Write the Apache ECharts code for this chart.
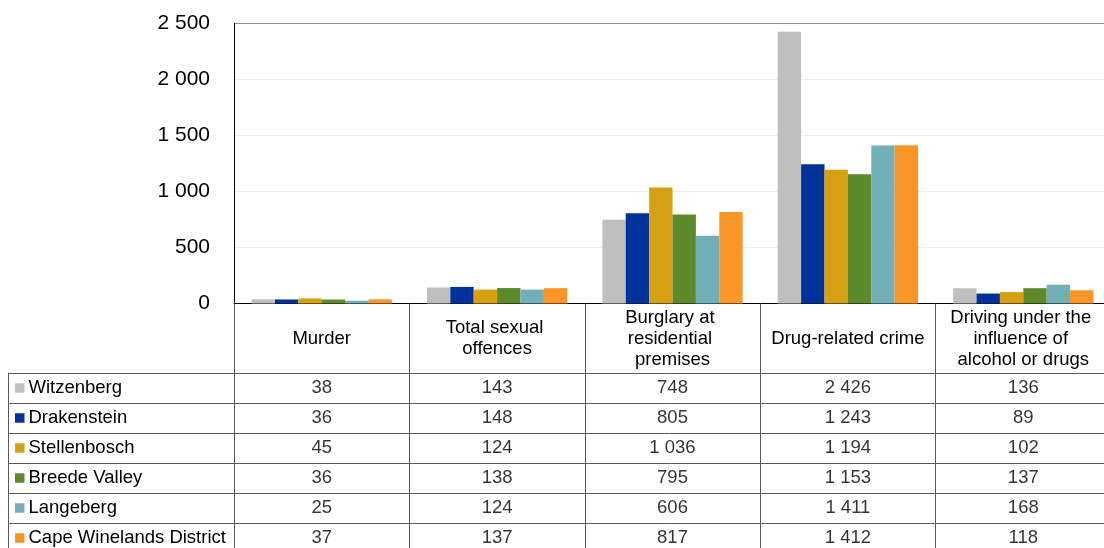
<!DOCTYPE html>
<html>
<head>
<meta charset="utf-8">
<script src="https://cdn.jsdelivr.net/npm/echarts@6/dist/echarts.min.js"></script>
<style>
  html, body { margin: 0; padding: 0; background: #fff; overflow: hidden; }
  #chart { width: 1104px; height: 548px; }
</style>
</head>
<body>
<div id="chart"></div>
<script>
// Crime categories (x axis and table header)
const categories = [
  'Murder',
  'Total sexual offences',
  'Burglary at residential premises',
  'Drug-related crime',
  'Driving under the influence of alcohol or drugs'
];

// Municipalities (one bar series and one table row each)
const municipalities = [
  'Witzenberg',
  'Drakenstein',
  'Stellenbosch',
  'Breede Valley',
  'Langeberg',
  'Cape Winelands District'
];

// Reported cases per category
const witzenberg    = [38, 143, 748, 2426, 136];
const drakenstein   = [36, 148, 805, 1243, 89];
const stellenbosch  = [45, 124, 1036, 1194, 102];
const breedeValley  = [36, 138, 795, 1153, 137];
const langeberg     = [25, 124, 606, 1411, 168];
const capeWinelands = [37, 137, 817, 1412, 118];

const seriesValues = [witzenberg, drakenstein, stellenbosch, breedeValley, langeberg, capeWinelands];

const colors = ['#BFBFBF', '#003399', '#D6A010', '#5D8A2A', '#72AFB6', '#F89728'];

// Value axis range
const yMin = 0, yMax = 2500, yStep = 500;

const FONT = '"Liberation Sans", Arial, sans-serif';
const TEXT_SIZE = 18.5;
const LINE = '#595959';

// Thousands separated by a space: 2426 -> "2 426"
const fmt = v => String(v).replace(/\B(?=(\d{3})+(?!\d))/g, ' ');

// Row label rich styles: a coloured square before each name
const rich = { t: { fontSize: TEXT_SIZE, fontFamily: FONT, color: '#000', padding: [0, 0, 0, 4] } };
colors.forEach((c, i) => {
  rich['s' + i] = { width: 9.5, height: 9.5, backgroundColor: c };
});

// Bars on the chart grid
const barSeries = municipalities.map((name, i) => ({
  name: name,
  type: 'bar',
  xAxisIndex: 0,
  yAxisIndex: 0,
  data: seriesValues[i],
  itemStyle: { color: colors[i] },
  barGap: '0%',
  barCategoryGap: '20%'
}));

// Table cells: one value per (category, municipality)
const cellData = [];
municipalities.forEach((name, i) => {
  categories.forEach((cat, j) => {
    cellData.push([j, i, seriesValues[i][j]]);
  });
});

const tableSeries = {
  type: 'scatter',
  xAxisIndex: 1,
  yAxisIndex: 1,
  symbolSize: 1,
  itemStyle: { color: 'rgba(0,0,0,0)' },
  data: cellData,
  label: {
    show: true,
    position: 'inside',
    formatter: p => fmt(p.value[2]),
    fontSize: TEXT_SIZE,
    fontFamily: FONT,
    color: '#000'
  },
  silent: true
};

// Gridline colours: light for inner lines, darker for the top edge of the plot
const gridLineColors = [];
for (let v = yMin; v <= yMax; v += yStep) {
  gridLineColors.push(v === yMax ? '#8f8f8f' : '#ebebeb');
}

const chart = echarts.init(document.getElementById('chart'), null, { renderer: 'canvas' });

chart.setOption({
  animation: false,
  backgroundColor: '#fff',
  textStyle: { fontFamily: FONT },
  grid: [
    { left: 234, top: 23.5, width: 877, height: 280, outerBoundsMode: 'none', containLabel: false },
    { left: 234, top: 373, width: 877, height: 180, outerBoundsMode: 'none', containLabel: false }
  ],
  xAxis: [
    {
      type: 'category',
      gridIndex: 0,
      data: categories,
      axisLine: { show: true, lineStyle: { color: '#000', width: 1 } },
      axisTick: { show: true, interval: 0, length: 70, lineStyle: { color: LINE, width: 1 } },
      axisLabel: {
        interval: 0,
        margin: 35,
        verticalAlign: 'middle',
        width: 155,
        overflow: 'break',
        lineHeight: 21,
        fontSize: TEXT_SIZE,
        fontFamily: FONT,
        color: '#000'
      },
      splitLine: { show: false }
    },
    {
      type: 'category',
      gridIndex: 1,
      position: 'top',
      data: categories,
      axisLine: { show: true, lineStyle: { color: LINE, width: 1 } },
      axisTick: { show: false },
      axisLabel: { show: false },
      splitLine: { show: true, interval: 0, lineStyle: { color: LINE, width: 1 } }
    }
  ],
  yAxis: [
    {
      type: 'value',
      gridIndex: 0,
      min: yMin,
      max: yMax,
      interval: yStep,
      axisLine: { show: true, lineStyle: { color: '#000', width: 1 } },
      axisTick: { show: false },
      axisLabel: {
        margin: 24,
        formatter: v => fmt(v),
        fontSize: 21,
        fontFamily: FONT,
        color: '#000'
      },
      splitLine: { show: true, lineStyle: { color: gridLineColors, width: 1.2 } }
    },
    {
      type: 'category',
      gridIndex: 1,
      inverse: true,
      data: municipalities,
      axisLine: { show: true, lineStyle: { color: LINE, width: 1 } },
      axisTick: { show: true, interval: 0, length: 226, lineStyle: { color: LINE, width: 1 } },
      axisLabel: {
        interval: 0,
        margin: 219,
        align: 'left',
        formatter: (name, idx) => '{s' + idx + '|}{t|' + name + '}',
        rich: rich
      },
      splitLine: { show: true, interval: 0, lineStyle: { color: LINE, width: 1 } }
    },
    {
      // outer left border of the row-label column
      type: 'value',
      gridIndex: 1,
      position: 'left',
      offset: 226,
      min: 0,
      max: 1,
      axisLine: { show: true, lineStyle: { color: LINE, width: 1 } },
      axisTick: { show: false },
      axisLabel: { show: false },
      splitLine: { show: false }
    }
  ],
  series: barSeries.concat([tableSeries])
});
</script>
</body>
</html>
